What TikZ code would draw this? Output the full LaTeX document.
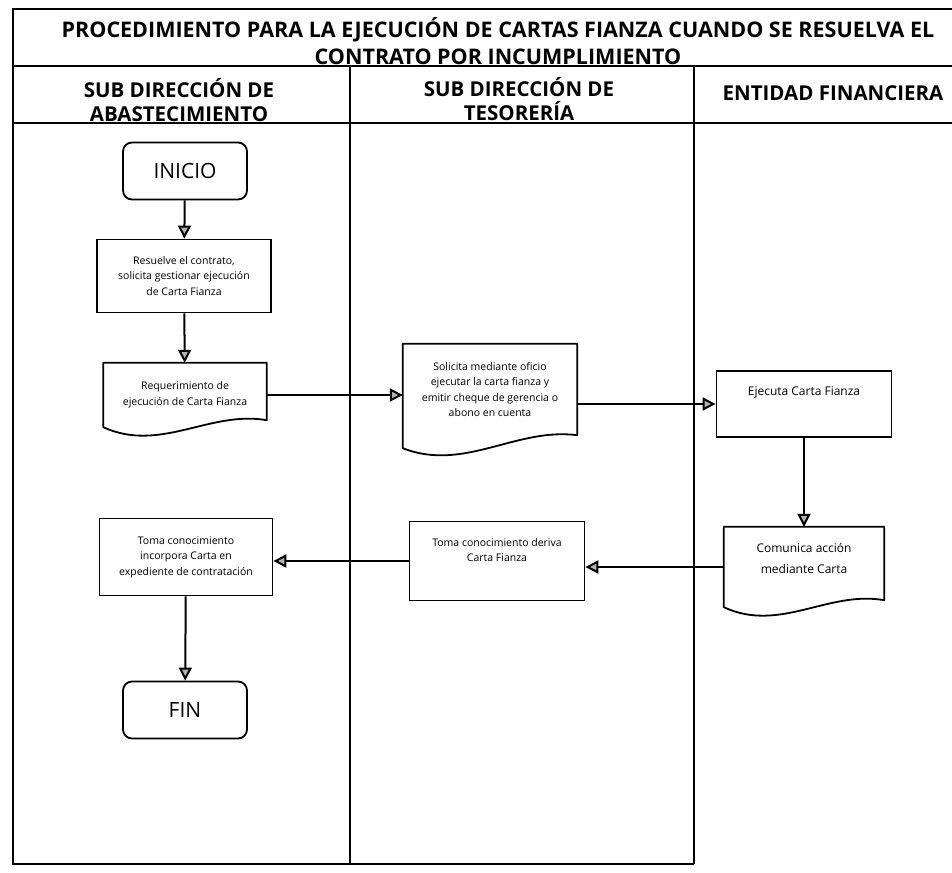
\documentclass[tikz,border=0pt]{standalone}
\usepackage{fontspec}
\setmainfont{Open Sans}
\usetikzlibrary{arrows.meta,calc}

\begin{document}
\begin{tikzpicture}[x=1pt,y=-1pt,
	caja/.style={draw=black,line width=1.8pt,rectangle,inner sep=0pt,align=center,font=\fontsize{10.5}{15.5}\selectfont},
	doc/.style={rectangle,inner sep=0pt,align=center,font=\fontsize{10.5}{15.5}\selectfont},
	borde/.style={line width=1.8pt,line join=round},
	term/.style={draw=black,line width=1.8pt,rounded corners=9pt,minimum width=124pt,minimum height=57pt,font=\fontsize{21}{24}\selectfont},
	flecha/.style={line width=2pt,-{Triangle[length=13pt,width=13pt,fill=gray!60]}},
	carril/.style={line width=1.1pt},
	titulo/.style={font=\bfseries\fontsize{21.5}{27}\selectfont,align=center},
	cabecera/.style={font=\bfseries\fontsize{20.5}{23.5}\selectfont,align=center}]

		\useasboundingbox (0,0) rectangle (952,872);

		\draw[carril] (952,9) -| (13,864) -- (694,864);
		\draw[carril] (13,66) -- (952,66);
		\draw[carril] (13,123) -- (952,123);
		\draw[carril] (350,66) -- (350,864);
		\draw[carril] (694,66) -- (694,864);

		\node[titulo] (titulo) at (498,41) {PROCEDIMIENTO PARA LA EJECUCIÓN DE CARTAS FIANZA CUANDO SE RESUELVA EL\\CONTRATO POR INCUMPLIMIENTO};
		\node[cabecera] (abast) at (179,100) {SUB DIRECCIÓN DE\\ABASTECIMIENTO};
		\node[cabecera] (tesor) at (519,99) {SUB DIRECCIÓN DE\\TESORERÍA};
		\node[cabecera] (entidad) at (833,93) {ENTIDAD FINANCIERA};

		\node[term] (inicio) at (185,171) {INICIO};
		\node[caja,minimum width=174pt,minimum height=73pt] (resuelve) at (184,276) {Resuelve el contrato,\\solicita gestionar ejecución\\de Carta Fianza};
		\node[doc,minimum width=163pt,minimum height=64pt] (requerimiento) at (185,395) {Requerimiento de\\ejecución de Carta Fianza};
		\node[doc,minimum width=174pt,minimum height=104pt,text depth=13pt] (solicita) at (490,396) {Solicita mediante oficio\\ejecutar la carta fianza y\\emitir cheque de gerencia o\\abono en cuenta};
		\node[caja,minimum width=175pt,minimum height=66pt,font=\fontsize{12}{21}\selectfont,text depth=25pt] (ejecuta) at (804,404) {Ejecuta Carta Fianza};
		\node[doc,minimum width=160pt,minimum height=80pt,font=\fontsize{12}{21}\selectfont,text depth=18pt] (comunica) at (804,567) {Comunica acción\\mediante Carta};
		\node[caja,minimum width=175pt,minimum height=79pt,text depth=22pt] (deriva) at (497,561) {Toma conocimiento deriva\\Carta Fianza};
		\node[caja,minimum width=173pt,minimum height=77pt] (incorpora) at (186,557) {Toma conocimiento\\incorpora Carta en\\expediente de contratación};
		\node[term] (fin) at (185,710) {FIN};

		\draw[borde] (requerimiento.south west) -- (requerimiento.north west) -- (requerimiento.north east) -- ($(requerimiento.south east)+(0,-7)$) .. controls +(-57,-10) and +(57,26) .. (requerimiento.south west) -- cycle;
		\draw[borde] (solicita.south west) -- (solicita.north west) -- (solicita.north east) -- ($(solicita.south east)+(0,-13)$) .. controls +(-61,-8) and +(61,24) .. (solicita.south west) -- cycle;
		\draw[borde] (comunica.south west) -- (comunica.north west) -- (comunica.north east) -- ($(comunica.south east)+(0,-7)$) .. controls +(-56,-10) and +(56,26) .. (comunica.south west) -- cycle;

		\draw[flecha] (inicio) -- (resuelve);
		\draw[flecha] (resuelve) -- (requerimiento);
		\draw[flecha] (requerimiento.east) -- (requerimiento.east -| solicita.west);
		\draw[flecha] (ejecuta.west -| solicita.east) -- (ejecuta.west);
		\draw[flecha] (ejecuta) -- (comunica);
		\draw[flecha] (comunica.west) -- (comunica.west -| deriva.east);
		\draw[flecha] (deriva.west) -- (deriva.west -| incorpora.east);
		\draw[flecha] (incorpora) -- (fin);

	\end{tikzpicture}
\end{document}
